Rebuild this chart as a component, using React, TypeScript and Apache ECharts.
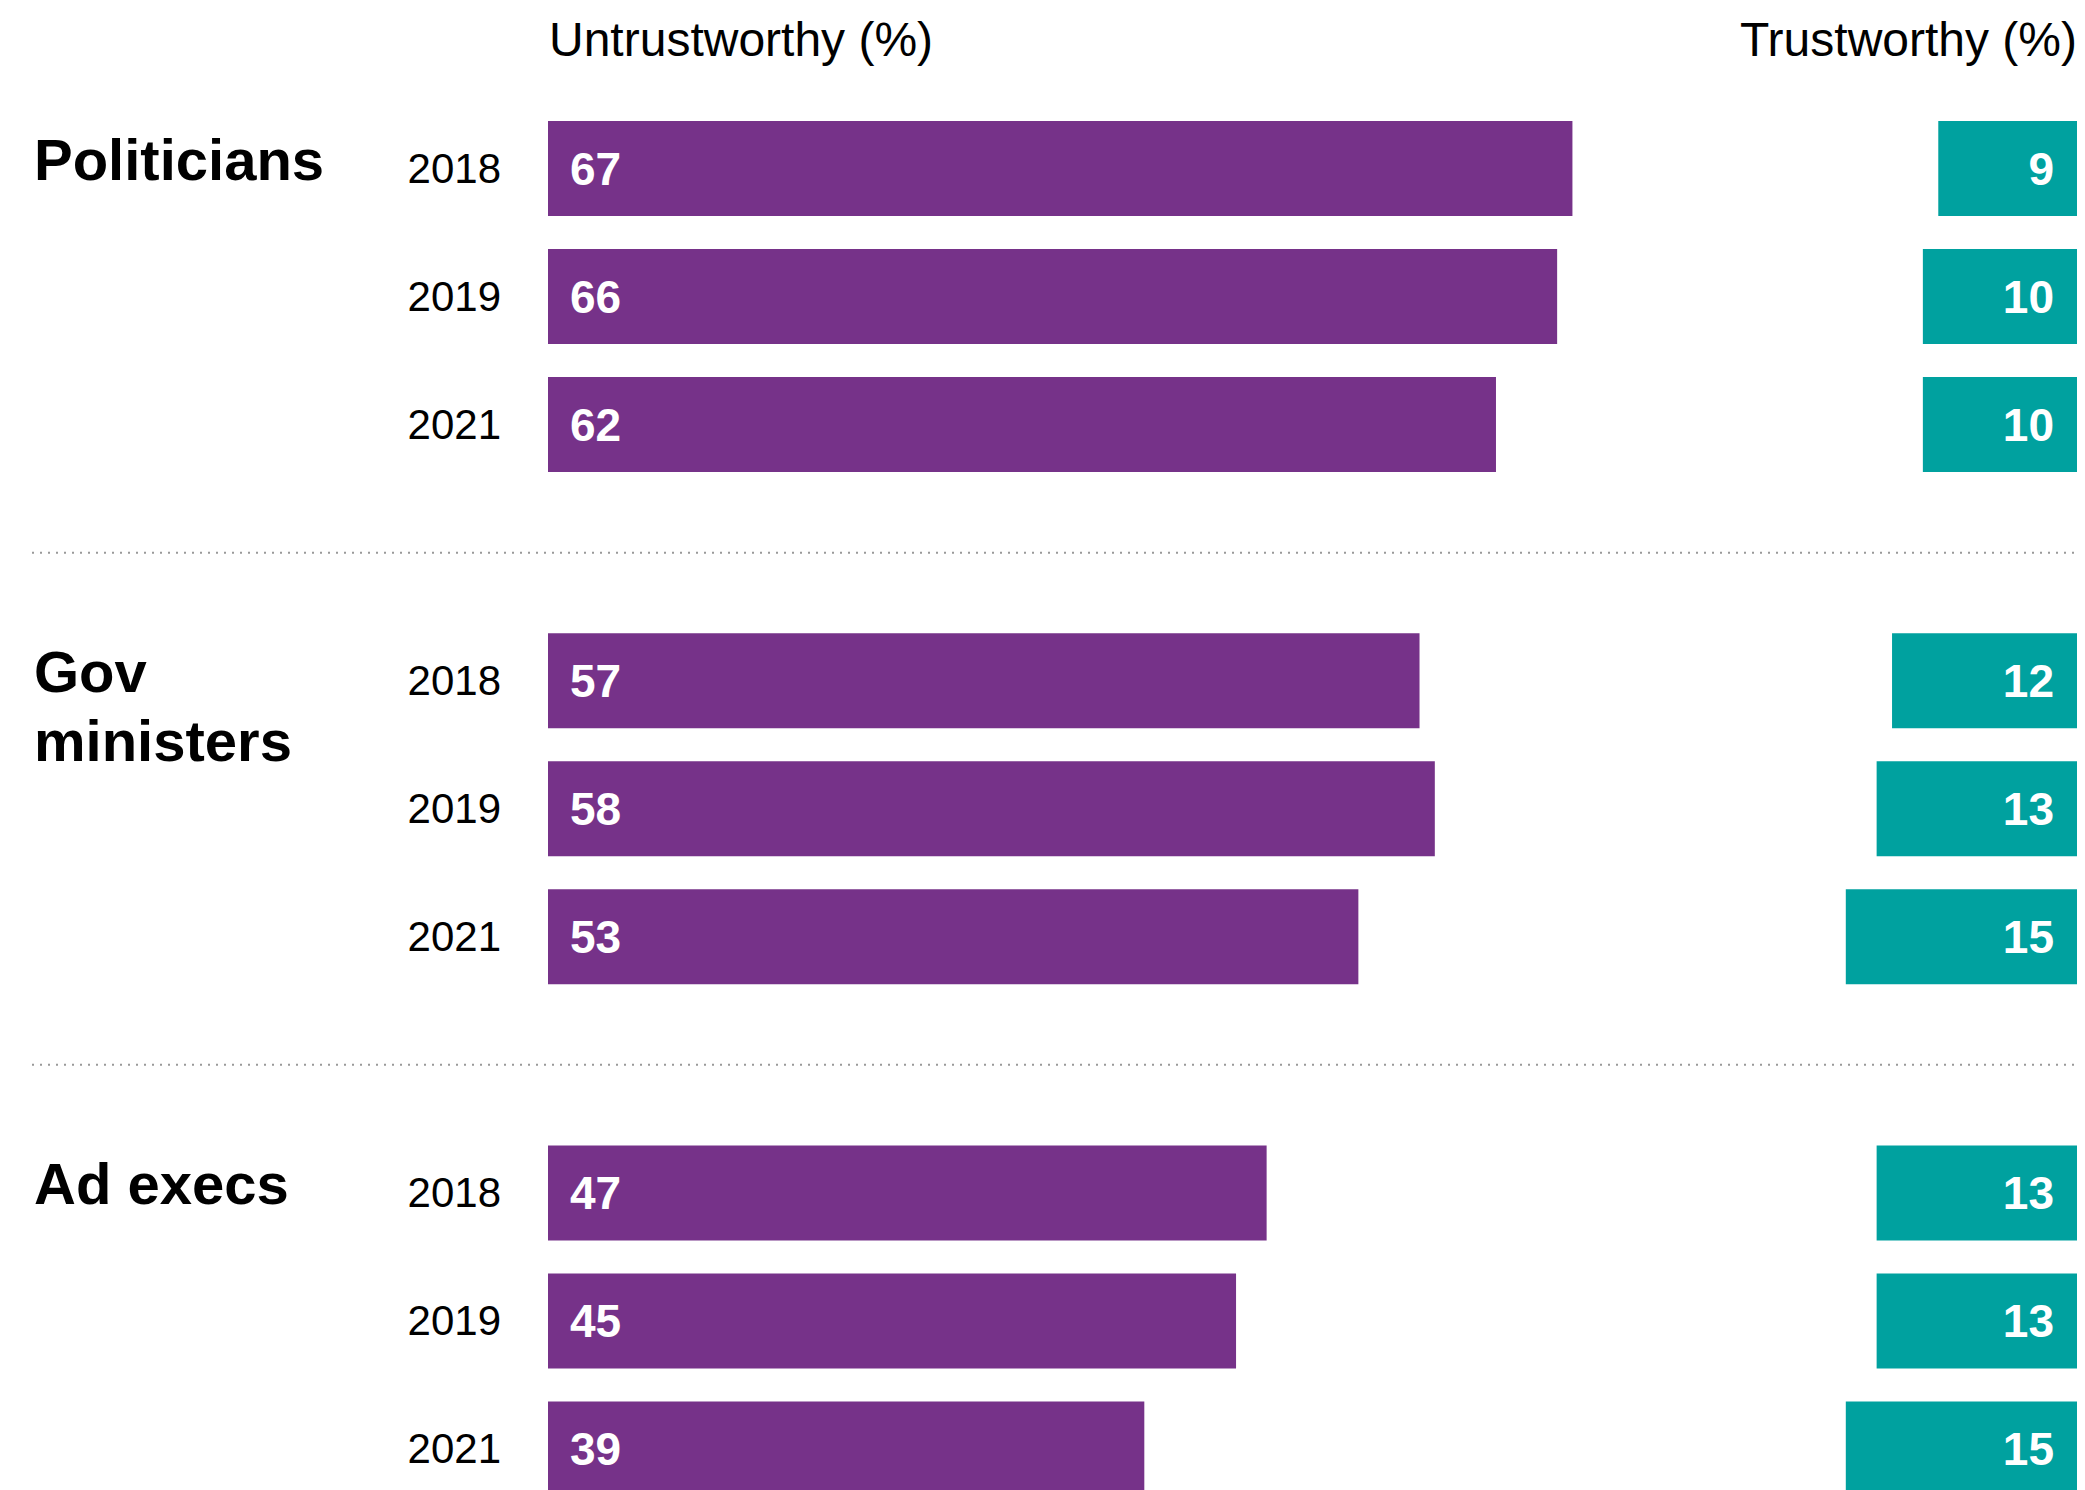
import React, { useEffect, useRef } from "react";
import * as echarts from "echarts";

const groups = ["Politicians", "Gov\nministers", "Ad execs"];
const years = ["2018", "2019", "2021"];
const untrustworthy = [67, 66, 62, 57, 58, 53, 47, 45, 39];
const trustworthy = [9, 10, 10, 12, 13, 15, 13, 13, 15];
const headerLeft = "Untrustworthy (%)";
const headerRight = "Trustworthy (%)";

const PURPLE = "#763289";
const TEAL = "#00A19F";
const FONT = "'Liberation Sans', Arial, Helvetica, sans-serif";

export default function App() {
  const ref = useRef<HTMLDivElement>(null);

  useEffect(() => {
    document.body.style.margin = "0";
    document.body.style.overflow = "hidden";
    if (!ref.current) return;
    const chart = echarts.init(ref.current, undefined, { renderer: "svg" });

    // Build rows: each group has its years, separated by an empty gap row
    const rowKeys: string[] = [];
    const purpleData: (number | null)[] = [];
    const tealData: (number | null)[] = [];
    const gapKeys: string[] = [];
    const firstRowKeys: string[] = [];
    groups.forEach((g, gi) => {
      if (gi > 0) {
        const k = "gap" + gi;
        rowKeys.push(k);
        gapKeys.push(k);
        purpleData.push(null);
        tealData.push(null);
      }
      years.forEach((y, yi) => {
        const k = g + "|" + y;
        if (yi === 0) firstRowKeys.push(k);
        rowKeys.push(k);
        purpleData.push(untrustworthy[gi * years.length + yi]);
        tealData.push(trustworthy[gi * years.length + yi]);
      });
    });

    chart.setOption({
      animation: false,
      grid: { left: 548, width: 1529, top: 104.5, height: 1408.5, containLabel: false },
      xAxis: [
        { type: "value", min: 0, max: 100, show: false, splitLine: { show: false } },
        { type: "value", min: 0, max: 99.2, inverse: true, show: false, splitLine: { show: false } },
      ],
      yAxis: [
        {
          type: "category",
          data: rowKeys,
          inverse: true,
          axisLine: { show: false },
          axisTick: { show: false },
          splitLine: { show: false },
          axisLabel: {
            margin: 47,
            color: "#000",
            fontSize: 42,
            fontFamily: FONT,
            formatter: (v: string) => (v.startsWith("gap") ? "" : v.split("|")[1]),
          },
        },
      ],
      series: [
        {
          type: "bar",
          name: "Untrustworthy",
          xAxisIndex: 0,
          yAxisIndex: 0,
          data: purpleData,
          barWidth: 95,
          barGap: "-100%",
          itemStyle: { color: PURPLE },
          label: {
            show: true,
            position: "insideLeft",
            distance: 22,
            color: "#fff",
            fontWeight: "bold",
            fontSize: 46,
            fontFamily: FONT,
          },
        },
        {
          type: "bar",
          name: "Trustworthy",
          xAxisIndex: 1,
          yAxisIndex: 0,
          data: tealData,
          barWidth: 95,
          barGap: "-100%",
          itemStyle: { color: TEAL },
          label: {
            show: true,
            position: "insideRight",
            distance: 23,
            color: "#fff",
            fontWeight: "bold",
            fontSize: 46,
            fontFamily: FONT,
          },
        },
      ],
    });

    const graphics: any[] = [
      {
        type: "text",
        x: 549,
        y: 39,
        style: { text: headerLeft, font: "48px " + FONT, fill: "#000", textAlign: "left", textVerticalAlign: "middle" },
      },
      {
        type: "text",
        x: 2077,
        y: 39,
        style: { text: headerRight, font: "48px " + FONT, fill: "#000", textAlign: "right", textVerticalAlign: "middle" },
      },
    ];
    groups.forEach((g, gi) => {
      const yc = chart.convertToPixel({ yAxisIndex: 0 }, firstRowKeys[gi]) as number;
      graphics.push({
        type: "text",
        x: 34,
        y: yc - 9 - 34.5,
        style: {
          text: g,
          font: "bold 58px " + FONT,
          fill: "#000",
          lineHeight: 69,
          textAlign: "left",
          textVerticalAlign: "top",
        },
      });
    });
    gapKeys.forEach((k) => {
      const yc = chart.convertToPixel({ yAxisIndex: 0 }, k) as number;
      graphics.push({
        type: "line",
        shape: { x1: 32, y1: yc, x2: 2078, y2: yc },
        style: { stroke: "#999", lineWidth: 2, lineDash: [2, 6] },
      });
    });
    chart.setOption({ graphic: graphics });

    return () => chart.dispose();
  }, []);

  return (
    <div style={{ width: 2085, height: 1490, overflow: "hidden", position: "relative" }}>
      <div ref={ref} style={{ width: 2085, height: 1530 }} />
    </div>
  );
}
